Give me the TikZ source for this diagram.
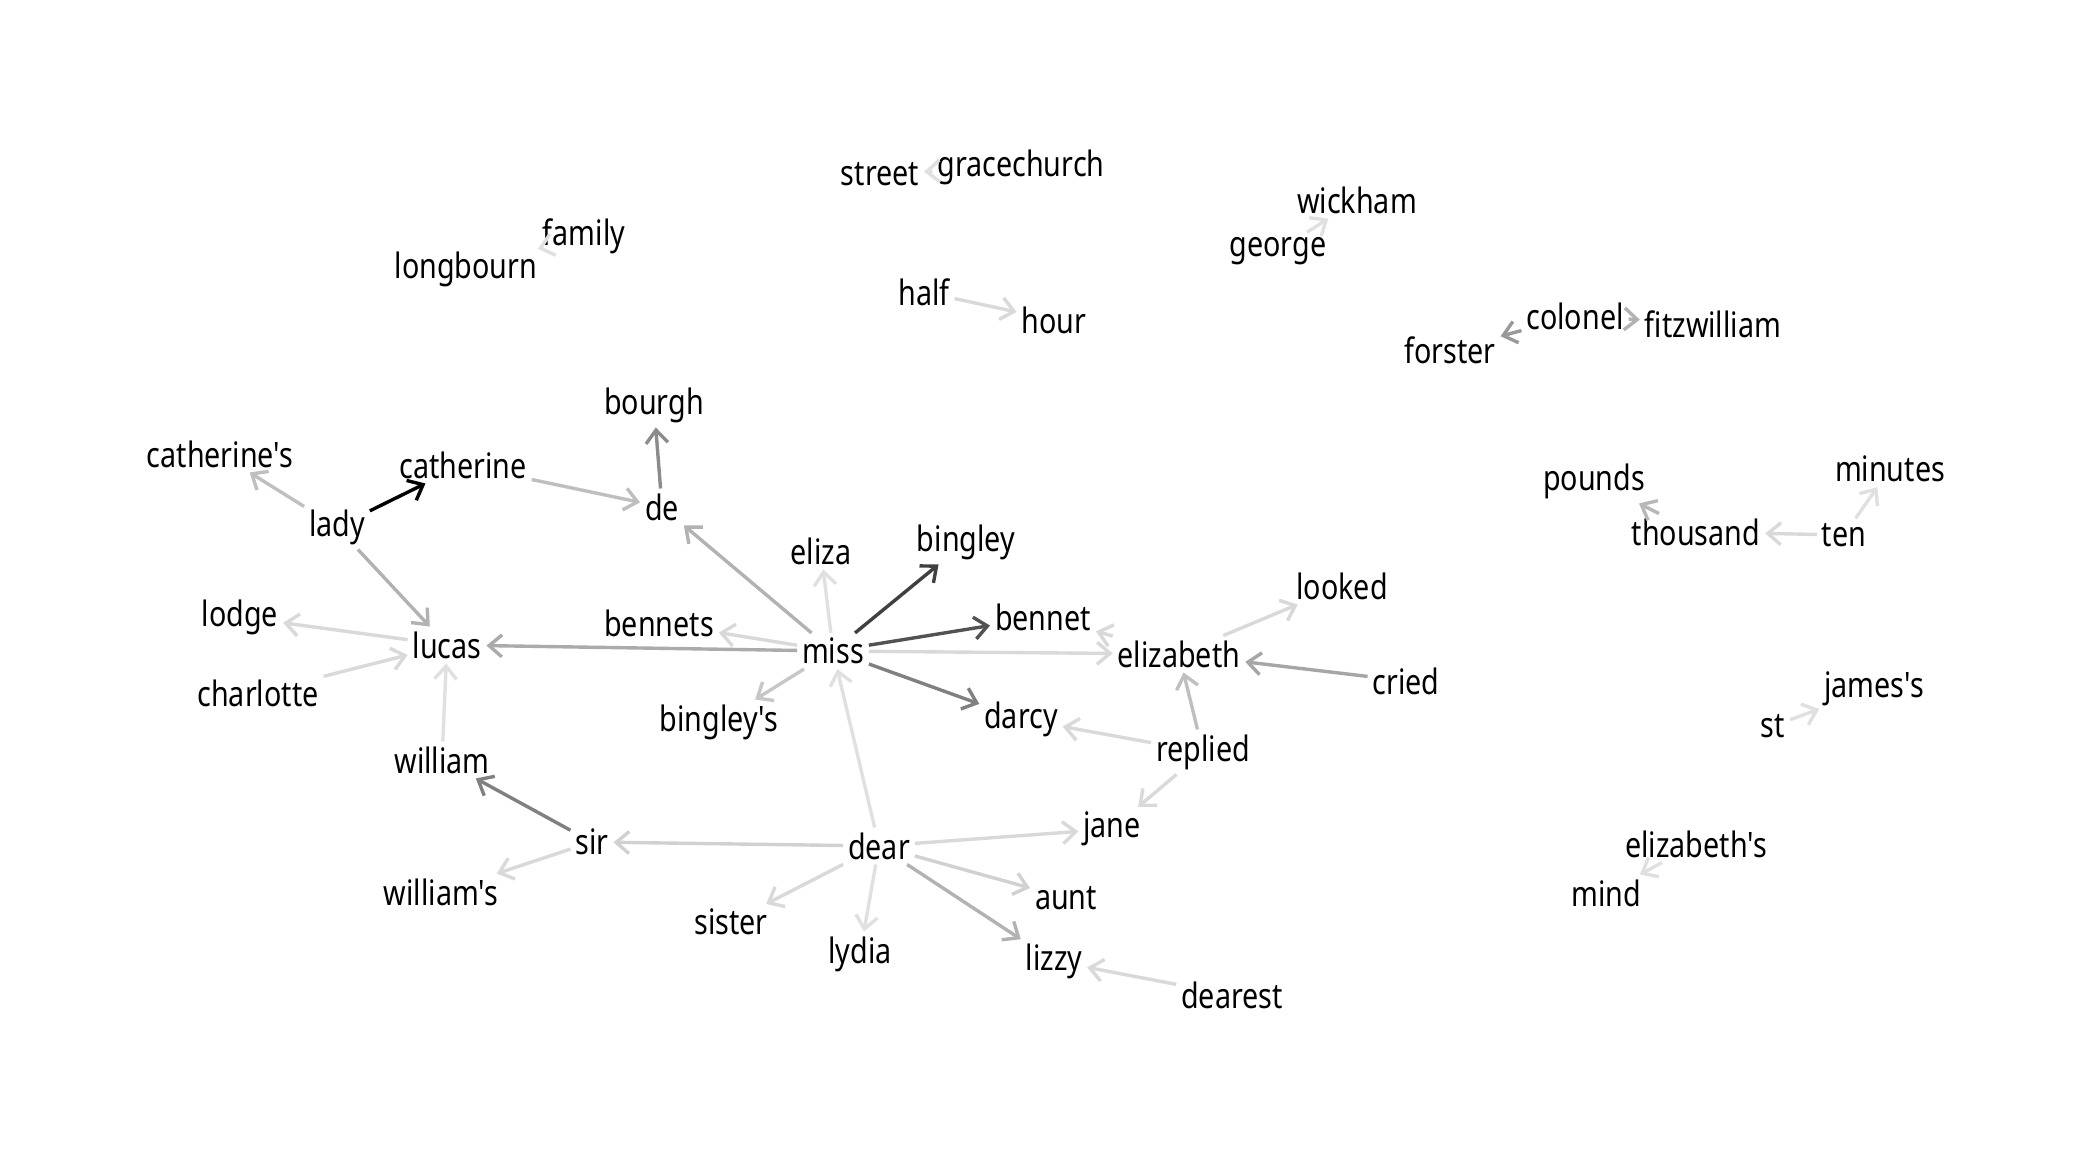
\documentclass[tikz,border=0pt]{standalone}
\usepackage{fontspec}
\newfontfamily\labfont[FakeStretch=0.82]{Noto Sans}
\usetikzlibrary{arrows.meta}
\tikzset{
  w/.style={font=\labfont\fontsize{17.5}{20}\selectfont, inner sep=2pt, outer sep=0.5pt, text=black},
  e/.style={draw=black!#1, line width=1.7pt, -{Straight Barb[length=6.5pt,width=11pt,line width=1.7pt]}},
}
\begin{document}
\begin{tikzpicture}[x=0.5pt,y=-0.5pt]
\useasboundingbox (0,0) rectangle (2100,1170);
% nodes
\node[w] (street) at (880,174) {street};
\node[w] (gracechurch) at (1021,167) {gracechurch};
\node[w] (family) at (584,236) {family};
\node[w] (longbourn) at (466,269) {longbourn};
\node[w] (wickham) at (1357,200) {wickham};
\node[w] (george) at (1278,251) {george};
\node[w] (half) at (924,292) {half};
\node[w] (hour) at (1054,320) {hour};
\node[w] (colonel) at (1575,316) {colonel};
\node[w] (fitzwilliam) at (1713,324) {fitzwilliam};
\node[w] (forster) at (1450,350) {forster};
\node[w] (bourgh) at (654,405) {bourgh};
\node[w] (catherines) at (220,454) {catherine's};
\node[w] (catherine) at (463,465) {catherine};
\node[w] (de) at (662,507) {de};
\node[w] (lady) at (337,527) {lady};
\node[w] (pounds) at (1594,481) {pounds};
\node[w] (minutes) at (1890,469) {minutes};
\node[w] (thousand) at (1696,532) {thousand};
\node[w] (ten) at (1844,535) {ten};
\node[w] (eliza) at (821,551) {eliza};
\node[w] (bingley) at (966,542) {bingley};
\node[w] (looked) at (1342,586) {looked};
\node[w] (lodge) at (240,617) {lodge};
\node[w] (bennets) at (659,623) {bennets};
\node[w] (bennet) at (1043,617) {bennet};
\node[w] (lucas) at (447,645) {lucas};
\node[w] (miss) at (833,651) {miss};
\node[w] (elizabeth) at (1179,654) {elizabeth};
\node[w] (cried) at (1406,681) {cried};
\node[w] (charlotte) at (258,693) {charlotte};
\node[w] (bingleys) at (719,722) {bingley's};
\node[w] (darcy) at (1021,719) {darcy};
\node[w] (jamess) at (1874,689) {james's};
\node[w] (st) at (1773,726) {st};
\node[w] (replied) at (1203,752) {replied};
\node[w] (william) at (442,760) {william};
\node[w] (jane) at (1112,829) {jane};
\node[w] (sir) at (592,842) {sir};
\node[w] (dear) at (879,846) {dear};
\node[w] (elizabeths) at (1696,844) {elizabeth's};
\node[w] (williams) at (441,892) {william's};
\node[w] (mind) at (1606,893) {mind};
\node[w] (aunt) at (1066,898) {aunt};
\node[w] (sister) at (731,922) {sister};
\node[w] (lydia) at (860,954) {lydia};
\node[w] (lizzy) at (1054,961) {lizzy};
\node[w] (dearest) at (1232,995) {dearest};
% edges
\draw[e=12] (gracechurch) -- (street);
\draw[e=12] (longbourn) -- (family);
\draw[e=12] (george) -- (wickham);
\draw[e=15] (half) -- (hour);
\draw[e=30] (colonel) -- (fitzwilliam);
\draw[e=40] (colonel) -- (forster);
\draw[e=45] (de) -- (bourgh);
\draw[e=25] (lady) -- (catherines);
\draw[e=100] (lady) -- (catherine);
\draw[e=25] (catherine) -- (de);
\draw[e=30] (lady) -- (lucas);
\draw[e=28] (thousand) -- (pounds);
\draw[e=15] (ten) -- (thousand);
\draw[e=12] (ten) -- (minutes);
\draw[e=30] (miss) -- (de);
\draw[e=12] (miss) -- (eliza);
\draw[e=75] (miss) -- (bingley);
\draw[e=15] (miss) -- (bennets);
\draw[e=33] (miss) -- (lucas);
\draw[e=68] (miss) -- (bennet);
\draw[e=15] (miss) -- (elizabeth);
\draw[e=50] (miss) -- (darcy);
\draw[e=22] (miss) -- (bingleys);
\draw[e=15] (elizabeth) -- (looked);
\draw[e=15] (elizabeth) -- (bennet);
\draw[e=35] (cried) -- (elizabeth);
\draw[e=25] (replied) -- (elizabeth);
\draw[e=15] (replied) -- (darcy);
\draw[e=15] (replied) -- (jane);
\draw[e=15] (lucas) -- (lodge);
\draw[e=15] (charlotte) -- (lucas);
\draw[e=12] (william) -- (lucas);
\draw[e=50] (sir) -- (william);
\draw[e=15] (sir) -- (williams);
\draw[e=18] (dear) -- (sir);
\draw[e=12] (dear) -- (miss);
\draw[e=15] (dear) -- (jane);
\draw[e=18] (dear) -- (aunt);
\draw[e=30] (dear) -- (lizzy);
\draw[e=12] (dear) -- (lydia);
\draw[e=15] (dear) -- (sister);
\draw[e=15] (dearest) -- (lizzy);
\draw[e=12] (st) -- (jamess);
\draw[e=12] (elizabeths) -- (mind);
\end{tikzpicture}
\end{document}
